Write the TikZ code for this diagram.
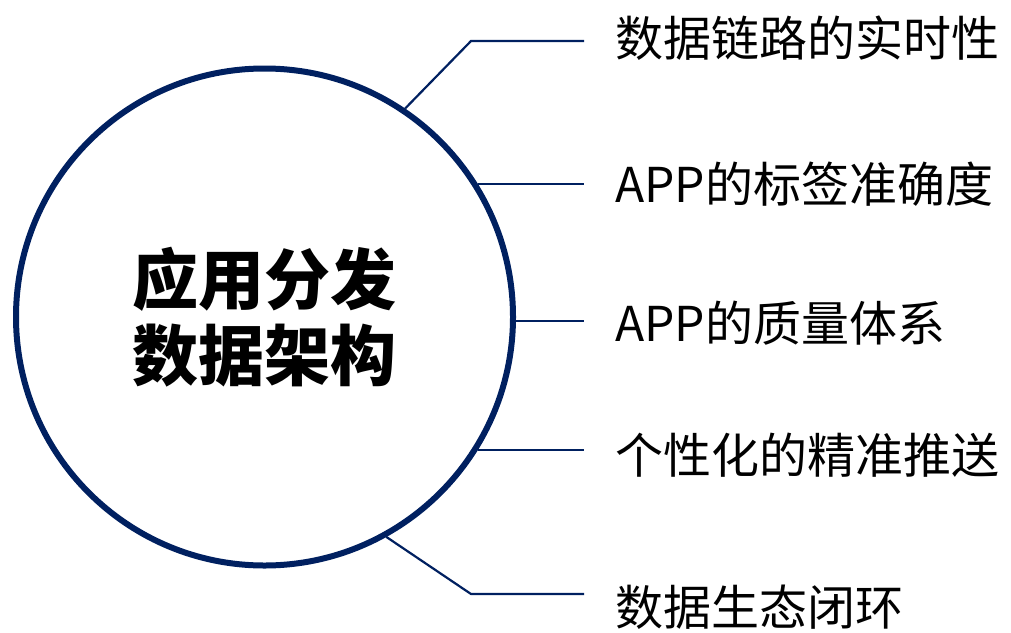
\documentclass[tikz,border=0pt]{standalone}
\usepackage{fontspec}
\setmainfont{Noto Sans CJK SC}
\usetikzlibrary{positioning}
\definecolor{navy}{RGB}{0,32,96}

\begin{document}
\begin{tikzpicture}[x=1pt,y=-1pt,
    conn/.style={draw=navy,line width=2.2pt},
    lbl/.style={anchor=west,inner xsep=31pt,inner ysep=0pt,font=\fontsize{48}{52}\selectfont}]
      \useasboundingbox (0,0) rectangle (1011,632);

      \node[circle,draw=navy,line width=6pt,minimum size=497pt,inner sep=0pt,
            align=center,font=\bfseries\fontsize{66}{76}\selectfont] (hub) at (264.5,317) {应用分发\\数据架构};

      \node[lbl] (t1) at (584,38) {数据链路的实时性};
      \node[lbl] (t2) at (584,184) {APP的标签准确度};
      \node[lbl] (t3) at (584,323) {APP的质量体系};
      \node[lbl] (t4) at (584,455) {个性化的精准推送};
      \node[lbl] (t5) at (584,607) {数据生态闭环};

      \coordinate (k1) at (471,41);
      \coordinate (k5) at (471,594);

      \draw[conn] (hub.56.6) -- (k1) -- (k1 -| t1.west);
      \draw[conn] (hub.32.4) -- (hub.32.4 -| t2.west);
      \draw[conn] (hub.-1.6) -- (hub.-1.6 -| t3.west);
      \draw[conn] (hub.-32.3) -- (hub.-32.3 -| t4.west);
      \draw[conn] (hub.-61.3) -- (k5) -- (k5 -| t5.west);
    \end{tikzpicture}
\end{document}
